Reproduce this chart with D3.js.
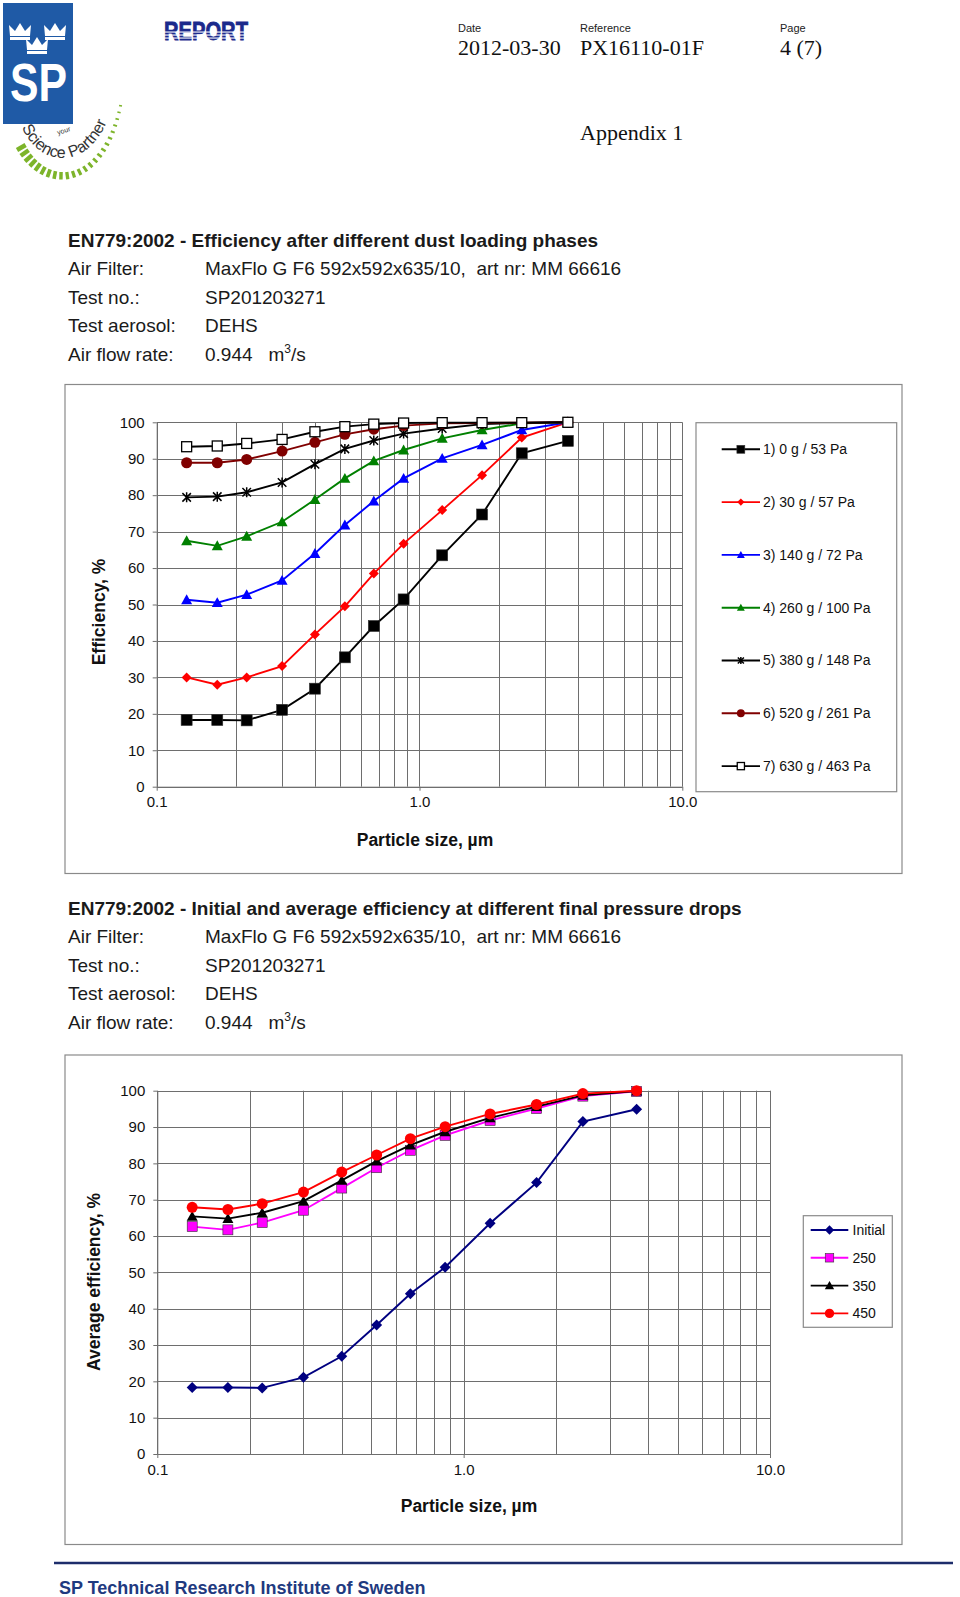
<!DOCTYPE html>
<html><head><meta charset="utf-8">
<script src="https://cdn.jsdelivr.net/npm/d3@7"></script>
<style>
body{margin:0;background:#fff;}
svg{display:block;}
text{font-family:"Liberation Sans",Arial,sans-serif;}
.serif{font-family:"Liberation Serif","Times New Roman",serif;}
</style></head><body>
<svg id="page" width="960" height="1597"></svg>
<script>
// ---------- DATA ----------
const particleSizes = [0.13, 0.17, 0.22, 0.30, 0.40, 0.52, 0.67, 0.87, 1.22, 1.73, 2.45, 3.67];

const loading1 = [18.3, 18.3, 18.2, 21.1, 26.9, 35.5, 44.1, 51.4, 63.5, 74.7, 91.5, 94.9];
const loading2 = [30.0, 28.0, 30.0, 33.1, 41.8, 49.5, 58.5, 66.7, 75.9, 85.5, 95.8, 100];
const loading3 = [51.3, 50.5, 52.7, 56.6, 64.0, 71.8, 78.4, 84.6, 90.1, 93.8, 97.9, 100];
const loading4 = [67.5, 66.1, 68.7, 72.7, 78.8, 84.6, 89.4, 92.4, 95.6, 97.9, 99.7, 100];
const loading5 = [79.4, 79.6, 80.8, 83.5, 88.5, 92.7, 95.0, 96.9, 98.3, 99.5, 99.8, 100];
const loading6 = [88.9, 88.9, 89.8, 92.1, 94.5, 96.7, 98.1, 99.1, 99.7, 99.8, 99.9, 100];
const loading7 = [93.3, 93.5, 94.2, 95.3, 97.4, 98.8, 99.5, 99.8, 99.9, 99.9, 99.9, 100];
const loadingNames = ["1) 0 g / 53 Pa", "2) 30 g / 57 Pa", "3) 140 g / 72 Pa", "4) 260 g / 100 Pa",
                      "5) 380 g / 148 Pa", "6) 520 g / 261 Pa", "7) 630 g / 463 Pa"];

const avgInitial = [18.3, 18.3, 18.2, 21.1, 26.9, 35.5, 44.1, 51.4, 63.5, 74.7, 91.5, 94.9];
const avg250 = [62.6, 61.7, 63.7, 67.1, 73.2, 78.8, 83.6, 87.7, 91.8, 95.1, 98.5, 99.8];
const avg350 = [65.4, 64.8, 66.4, 69.6, 75.3, 80.6, 85.0, 88.7, 92.5, 95.6, 98.7, 99.9];
const avg450 = [67.9, 67.3, 68.9, 72.1, 77.6, 82.3, 86.8, 90.1, 93.6, 96.2, 99.2, 100];
const avgNames = ["Initial", "250", "350", "450"];

const xTickValues = [0.1, 1, 10];
const xTickLabels = ["0.1", "1.0", "10.0"];
const yTickValues = [0, 10, 20, 30, 40, 50, 60, 70, 80, 90, 100];

const infoLabels = ["Air Filter:", "Test no.:", "Test aerosol:", "Air flow rate:"];
const infoValues = ["MaxFlo G F6 592x592x635/10,  art nr: MM 66616", "SP201203271", "DEHS", "0.944   m"];

// ---------- PAGE ----------
const svg = d3.select("#page");
svg.append("rect").attr("width", 960).attr("height", 1597).attr("fill", "#fff");

// Logo
const logo = svg.append("g");
logo.append("rect").attr("x", 3).attr("y", 3).attr("width", 70).attr("height", 121).attr("fill", "#1f5aa6");
function crown(cx, cy) {
  logo.append("path")
    .attr("d", `M${cx-10},${cy+4} L${cx-11},${cy-7} L${cx-5},${cy-1} L${cx},${cy-9} L${cx+5},${cy-1} L${cx+11},${cy-7} L${cx+10},${cy+4} Z`)
    .attr("fill", "#fff");
  logo.append("rect").attr("x", cx-10).attr("y", cy+5).attr("width", 20).attr("height", 3).attr("fill", "#fff");
}
crown(20, 32); crown(55, 32); crown(37, 46);
logo.append("text").attr("x", 10).attr("y", 101).attr("font-size", 53).attr("font-weight", "bold")
  .attr("fill", "#fff").attr("textLength", 57).attr("lengthAdjust", "spacingAndGlyphs").text("SP");
const dashPath = logo.append("path").attr("d", "M17,150 C44,197 106,192 122,106").attr("fill", "none").attr("stroke", "none");
const dp = dashPath.node(); const dl = dp.getTotalLength();
const nD = 24;
for (let i = 0; i < nD; i++) {
  const t = i / (nD - 1);
  const l = t * dl;
  const p = dp.getPointAtLength(l), p2 = dp.getPointAtLength(Math.min(dl, l + 0.5));
  const p1 = dp.getPointAtLength(Math.max(0, l - 0.5));
  let dx = p2.x - p1.x, dy = p2.y - p1.y; const n = Math.hypot(dx, dy) || 1; dx /= n; dy /= n;
  const nx = dy, ny = -dx;
  const len = 10 - 7 * t, w = 4.5 - 3 * t;
  logo.append("line").attr("x1", p.x).attr("y1", p.y).attr("x2", p.x + nx * len).attr("y2", p.y + ny * len)
    .attr("stroke", "#7db42a").attr("stroke-width", w);
}
logo.append("path").attr("id", "arcText").attr("d", "M22,127 C40,172 102,174 115,92").attr("fill", "none");
const w1 = logo.append("text").attr("font-size", 16).attr("fill", "#333");
w1.append("textPath").attr("href", "#arcText").attr("startOffset", 0).text("Science");
const w1len = w1.node().getComputedTextLength();
logo.append("text").attr("font-size", 16).attr("fill", "#333")
  .append("textPath").attr("href", "#arcText").attr("startOffset", w1len + 5).text("Partner");
logo.append("text").attr("x", 58).attr("y", 135).attr("font-size", 7).attr("fill", "#333")
  .attr("transform", "rotate(-18,58,135)").text("your");

// REPORT
svg.append("text").attr("x", 164).attr("y", 40).attr("font-size", 25).attr("font-weight", "900")
  .attr("fill", "#1b2a8c").attr("stroke", "#1b2a8c").attr("stroke-width", 0.8)
  .attr("textLength", 84).attr("lengthAdjust", "spacingAndGlyphs").text("REPORT");
[31.5, 34.5, 37.5].forEach(yy => svg.append("rect").attr("x", 160).attr("y", yy).attr("width", 92).attr("height", 1.1).attr("fill", "#fff"));

// Header
const hdr = [["Date", "2012-03-30", 458], ["Reference", "PX16110-01F", 580], ["Page", "4 (7)", 780]];
hdr.forEach(h => {
  svg.append("text").attr("x", h[2]).attr("y", 32).attr("font-size", 11).attr("fill", "#222").text(h[0]);
  svg.append("text").attr("class", "serif").attr("x", h[2]).attr("y", 55).attr("font-size", 22).attr("fill", "#111").text(h[1]);
});
svg.append("text").attr("class", "serif").attr("x", 580).attr("y", 140).attr("font-size", 22).attr("fill", "#111").text("Appendix 1");

// Info blocks
function infoBlock(title, yTitle) {
  svg.append("text").attr("x", 68).attr("y", yTitle).attr("font-size", 19).attr("font-weight", "bold")
    .attr("fill", "#1a1a1a").text(title);
  infoLabels.forEach((lab, i) => {
    const yy = yTitle + 28.4 * (i + 1);
    svg.append("text").attr("x", 68).attr("y", yy).attr("font-size", 19).attr("fill", "#1a1a1a").text(lab);
    const t = svg.append("text").attr("x", 205).attr("y", yy).attr("font-size", 19).attr("fill", "#1a1a1a")
      .style("white-space", "pre").text(infoValues[i]);
    if (i === 3) {
      t.append("tspan").attr("font-size", 12).attr("dy", -8).text("3");
      t.append("tspan").attr("dy", 8).text("/s");
    }
  });
}
infoBlock("EN779:2002 - Efficiency after different dust loading phases", 247);
infoBlock("EN779:2002 - Initial and average efficiency at different final pressure drops", 915);

// ---------- MARKERS ----------
function drawMarker(sel, type, color, r) {
  if (type === "square") {
    sel.append("rect").attr("x", -r).attr("y", -r).attr("width", 2 * r).attr("height", 2 * r)
      .attr("fill", color).attr("stroke", "#333").attr("stroke-width", 0.6);
  } else if (type === "openSquare") {
    sel.append("rect").attr("x", -r).attr("y", -r).attr("width", 2 * r).attr("height", 2 * r)
      .attr("fill", "#fff").attr("stroke", color).attr("stroke-width", 1.3);
  } else if (type === "diamond") {
    sel.append("path").attr("d", `M0,${-r} L${r},0 L0,${r} L${-r},0 Z`).attr("fill", color);
  } else if (type === "triangle") {
    sel.append("path").attr("d", `M0,${-r} L${r},${r * 0.8} L${-r},${r * 0.8} Z`).attr("fill", color);
  } else if (type === "circle") {
    sel.append("circle").attr("r", r).attr("fill", color);
  } else if (type === "star") {
    const a = r * 0.85;
    sel.append("path").attr("d", `M0,${-r} L0,${r} M${-a},${-a} L${a},${a} M${-a},${a} L${a},${-a}`)
      .attr("stroke", color).attr("stroke-width", 1.5).attr("fill", "none");
  }
}

// ---------- CHART ----------
function drawChart(cfg) {
  const g = svg.append("g");
  g.append("rect").attr("x", cfg.frame[0]).attr("y", cfg.frame[1]).attr("width", cfg.frame[2]).attr("height", cfg.frame[3])
    .attr("fill", "#fff").attr("stroke", "#8a8a8a").attr("stroke-width", 1.2);
  const x = d3.scaleLog().domain([0.1, 10]).range([cfg.x0, cfg.x1]);
  const y = d3.scaleLinear().domain([0, 100]).range([cfg.y0, cfg.y1]);
  const gridCol = "#6e6e6e";
  g.append("g").selectAll("line").data(x.ticks()).join("line")
    .attr("x1", d => Math.round(x(d)) + 0.5).attr("x2", d => Math.round(x(d)) + 0.5)
    .attr("y1", cfg.y0).attr("y2", cfg.y1).attr("stroke", gridCol).attr("stroke-width", 1);
  g.append("g").selectAll("line").data(yTickValues).join("line")
    .attr("x1", cfg.x0).attr("x2", cfg.x1)
    .attr("y1", d => Math.round(y(d)) + 0.5).attr("y2", d => Math.round(y(d)) + 0.5)
    .attr("stroke", gridCol).attr("stroke-width", 1);
  const ya = g.append("g").attr("transform", `translate(${cfg.x0},0)`)
    .call(d3.axisLeft(y).tickValues(yTickValues).tickSize(4).tickSizeOuter(0).tickPadding(8));
  const xa = g.append("g").attr("transform", `translate(0,${cfg.y0})`)
    .call(d3.axisBottom(x).tickValues(xTickValues).tickFormat((d, i) => xTickLabels[i]).tickSize(4).tickSizeOuter(0).tickPadding(6));
  [ya, xa].forEach(a => {
    a.select(".domain").attr("stroke", gridCol);
    a.selectAll(".tick line").attr("stroke", gridCol);
    a.selectAll("text").attr("font-size", 15).attr("fill", "#111").attr("font-family", "Liberation Sans, Arial, sans-serif");
  });
  g.append("text").attr("x", cfg.xTitle[0]).attr("y", cfg.xTitle[1]).attr("text-anchor", "middle")
    .attr("font-size", 17.5).attr("font-weight", "bold").attr("fill", "#111").text("Particle size, µm");
  g.append("text").attr("transform", `translate(${cfg.yTitle[0]},${cfg.yTitle[1]}) rotate(-90)`)
    .attr("text-anchor", "middle").attr("dy", "0.35em")
    .attr("font-size", 17.5).attr("font-weight", "bold").attr("fill", "#111").text(cfg.yLabel);
  const line = d3.line().x(d => x(d[0])).y(d => y(d[1]));
  cfg.series.forEach(s => {
    const pts = particleSizes.map((p, i) => [p, s.values[i]]);
    g.append("path").datum(pts).attr("d", line).attr("fill", "none").attr("stroke", s.color).attr("stroke-width", 1.9);
    g.append("g").selectAll("g").data(pts).join("g")
      .attr("transform", d => `translate(${x(d[0])},${y(d[1])})`)
      .each(function () { drawMarker(d3.select(this), s.marker, s.mcolor || s.color, s.r); });
  });
  const L = cfg.legend;
  g.append("rect").attr("x", L.box[0]).attr("y", L.box[1]).attr("width", L.box[2]).attr("height", L.box[3])
    .attr("fill", "#fff").attr("stroke", "#8a8a8a").attr("stroke-width", 1.2);
  cfg.series.forEach((s, i) => {
    const yy = L.y0 + i * L.dy;
    g.append("line").attr("x1", L.lx0).attr("x2", L.lx1).attr("y1", yy).attr("y2", yy)
      .attr("stroke", s.color).attr("stroke-width", 1.9);
    const mg = g.append("g").attr("transform", `translate(${(L.lx0 + L.lx1) / 2},${yy})`);
    drawMarker(mg, s.marker, s.mcolor || s.color, s.r * L.mscale);
    g.append("text").attr("x", L.tx).attr("y", yy).attr("dy", "0.35em").attr("font-size", 14)
      .attr("fill", "#111").text(s.name);
  });
}

drawChart({
  frame: [65, 384.5, 837, 489],
  x0: 156.7, x1: 682.3, y0: 786.7, y1: 422.3,
  xTitle: [425, 846], yTitle: [99, 612], yLabel: "Efficiency, %",
  series: [
    {name: loadingNames[0], values: loading1, color: "#000000", marker: "square", r: 5.5},
    {name: loadingNames[1], values: loading2, color: "#ff0000", marker: "diamond", r: 5},
    {name: loadingNames[2], values: loading3, color: "#0000ff", marker: "triangle", r: 5.5},
    {name: loadingNames[3], values: loading4, color: "#008000", marker: "triangle", r: 5.5},
    {name: loadingNames[4], values: loading5, color: "#000000", marker: "star", r: 5},
    {name: loadingNames[5], values: loading6, color: "#800000", marker: "circle", r: 5.5},
    {name: loadingNames[6], values: loading7, color: "#000000", marker: "openSquare", r: 5}
  ],
  legend: {box: [696, 422.7, 200.7, 369], y0: 449.3, dy: 52.8, lx0: 721.7, lx1: 760, tx: 763, mscale: 0.72}
});

drawChart({
  frame: [65, 1055, 837, 489.5],
  x0: 157.3, x1: 770, y0: 1454, y1: 1090.7,
  xTitle: [469, 1512], yTitle: [94, 1282], yLabel: "Average efficiency, %",
  series: [
    {name: avgNames[0], values: avgInitial, color: "#000080", marker: "diamond", r: 5.5},
    {name: avgNames[1], values: avg250, color: "#ff00ff", marker: "square", r: 5},
    {name: avgNames[2], values: avg350, color: "#000000", marker: "triangle", r: 5.5},
    {name: avgNames[3], values: avg450, color: "#ff0000", marker: "circle", r: 5.5}
  ],
  legend: {box: [803.3, 1215.7, 89, 111.6], y0: 1230, dy: 27.8, lx0: 810.7, lx1: 848.3, tx: 852.5, mscale: 0.85}
});

// Footer
svg.append("line").attr("x1", 54).attr("x2", 953).attr("y1", 1563).attr("y2", 1563)
  .attr("stroke", "#1d2d6b").attr("stroke-width", 2.5);
svg.append("text").attr("x", 59).attr("y", 1594).attr("font-size", 18).attr("font-weight", "bold")
  .attr("fill", "#1f3a80").text("SP Technical Research Institute of Sweden");
</script>
</body></html>
